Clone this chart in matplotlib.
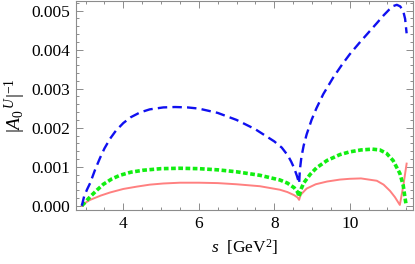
import matplotlib
matplotlib.use("Agg")
import matplotlib.pyplot as plt
from matplotlib.ticker import MultipleLocator

# values
blue_s = [2.90, 2.96, 3.04, 3.12, 3.25, 3.38, 3.50, 3.65, 3.80, 4.00,
          4.20, 4.44, 4.70, 5.06, 5.37, 5.70, 6.00, 6.50, 7.00, 7.50,
          8.00, 8.20, 8.36, 8.45, 8.53, 8.60, 8.64, 8.66, 8.68, 8.72,
          8.78, 8.86, 8.99, 9.12, 9.30, 9.56, 9.80, 10.00, 10.28, 10.50,
          10.72, 10.90, 11.05, 11.16, 11.25, 11.34, 11.42, 11.47, 11.51]
blue_v = [0.0, 0.00024, 0.00042, 0.00058, 0.00092, 0.00122, 0.00147, 0.00172, 0.00192, 0.00212,
          0.00227, 0.00239, 0.00247, 0.00252, 0.00253, 0.00252, 0.00249, 0.00238, 0.00220, 0.00196,
          0.00165, 0.00149, 0.00129, 0.00113, 0.00096, 0.00077, 0.00064, 0.00057, 0.00092, 0.00124,
          0.00154, 0.00183, 0.00220, 0.00250, 0.00286, 0.00328, 0.00362, 0.00388, 0.00420, 0.00444,
          0.00468, 0.00488, 0.00503, 0.00512, 0.00515, 0.00511, 0.00499, 0.00479, 0.00442]

green_s = [2.90, 3.00, 3.12, 3.30, 3.47, 3.70, 3.91, 4.20, 4.53, 5.00,
           5.50, 6.00, 6.50, 7.00, 7.62, 8.15, 8.35, 8.53, 8.62, 8.66,
           8.70, 8.78, 8.95, 9.12, 9.40, 9.74, 10.00, 10.30, 10.60, 10.80,
           10.98, 11.15, 11.33, 11.42, 11.46, 11.50]
green_v = [0.0, 0.00010, 0.00023, 0.00040, 0.00055, 0.00069, 0.00078, 0.00086, 0.00091, 0.00095,
           0.00096, 0.00095, 0.00092, 0.00087, 0.00078, 0.00066, 0.00058, 0.00046, 0.00035, 0.00023,
           0.00040, 0.00058, 0.00080, 0.00097, 0.00116, 0.00131, 0.00138, 0.00143, 0.00145, 0.00143,
           0.00134, 0.00116, 0.00083, 0.00052, 0.00025, 0.0]

red_s = [2.90, 3.00, 3.12, 3.40, 3.65, 4.00, 4.36, 4.70, 5.06, 5.50,
         6.00, 6.50, 7.00, 7.62, 8.15, 8.35, 8.53, 8.62, 8.66, 8.70,
         8.86, 9.10, 9.40, 9.74, 10.00, 10.30, 10.72, 10.90, 11.07, 11.20,
         11.33, 11.42, 11.51]
red_v = [0.0, 0.00008, 0.00015, 0.00026, 0.00034, 0.00043, 0.00049, 0.00054, 0.00057, 0.00059,
         0.00059, 0.00058, 0.00055, 0.00050, 0.00041, 0.00035, 0.00027, 0.00021, 0.00015, 0.00028,
         0.00044, 0.00055, 0.00062, 0.00067, 0.00069, 0.00070, 0.00064, 0.00054, 0.00038, 0.00022,
         0.00002, 0.00050, 0.00108]

x_ticks = [4, 6, 8, 10]
y_ticks = [0.000, 0.001, 0.002, 0.003, 0.004, 0.005]


def main():
    """
    Draws the three inverse amplitude curves against s.
    """
    plt.rcParams["font.family"] = ["Liberation Serif", "DejaVu Serif"]
    plt.rcParams["mathtext.fontset"] = "custom"
    plt.rcParams["mathtext.rm"] = "Liberation Serif"
    plt.rcParams["mathtext.it"] = "Liberation Serif:italic"

    fig = plt.figure(figsize=(4.15, 2.64), dpi=100)
    ax = fig.add_axes([0.1824, 0.2045, 0.8135, 0.7935])

    ax.plot(red_s, red_v, color="#ff8080", lw=1.4)
    ax.plot(green_s, green_v, color="#11ee11", lw=2.6, dashes=(1.3, 0.7))
    ax.plot(blue_s, blue_v, color="#1010f0", lw=1.7, dashes=(4.0, 2.2))

    ax.set_xlim(2.737, 11.687)
    ax.set_ylim(-0.00011, 0.00526)
    ax.set_xticks(x_ticks)
    ax.set_yticks(y_ticks)
    ax.set_yticklabels(["{:.3f}".format(v) for v in y_ticks])
    ax.xaxis.set_minor_locator(MultipleLocator(0.5))
    ax.yaxis.set_minor_locator(MultipleLocator(0.0002))

    for side in ax.spines.values():
        side.set_color("#8c8c8c")
        side.set_linewidth(0.8)
    ax.tick_params(which="both", direction="in", top=True, right=True,
                   color="#8c8c8c", labelsize=12.5, width=0.7)
    ax.tick_params(which="major", length=5, pad=4)
    ax.tick_params(which="minor", length=2.5)

    ax.set_xlabel(r"$s$  [GeV$^2$]", fontsize=12.5, labelpad=4)
    ax.set_ylabel(r"$|A_0{}^{\,U}|^{-1}$", fontsize=14, labelpad=2)

    fig.savefig("out.png", dpi=100)


if __name__ == "__main__":
    main()
